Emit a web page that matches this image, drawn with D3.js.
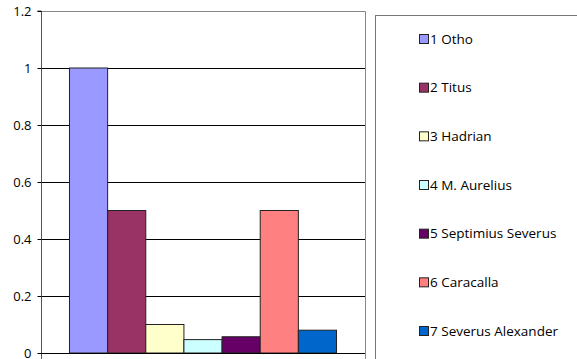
<!DOCTYPE html>
<html><head><meta charset="utf-8">
<script src="https://cdn.jsdelivr.net/npm/d3@7"></script>
<style>html,body{margin:0;padding:0;background:#fff;}svg{display:block;}</style>
</head><body>
<svg id="c" width="577" height="359"></svg>
<script>
const categories = ["1"];
const seriesNames = ["1 Otho","2 Titus","3 Hadrian","4 M. Aurelius","5 Septimius Severus","6 Caracalla","7 Severus Alexander"];
const seriesValues = [1.0, 0.5, 0.1, 0.047, 0.057, 0.5, 0.08];
const seriesColors = ["#9999FF","#993366","#FFFFCC","#CCFFFF","#660066","#FF8080","#0066CC"];
const yTicks = [0, 0.2, 0.4, 0.6, 0.8, 1, 1.2];
const yTickLabels = ["0","0.2","0.4","0.6","0.8","1","1.2"];

const svg = d3.select("#c");
const font = "'Open Sans', sans-serif";
const L = 41, R = 365, T = 11, B = 353;

const y = d3.scaleLinear().domain([0, 1.2]).range([B, T]);
const x0 = d3.scaleBand().domain(categories).range([L, R]).paddingInner(0).paddingOuter(0.1067);
const x1 = d3.scaleBand().domain(seriesNames).range([0, x0.bandwidth()]).padding(0);

// plot border (top & right gray)
svg.append("path").attr("d", `M${L},${T+0.5}H${R+0.5}V359`).attr("fill","none").attr("stroke","#888").attr("stroke-width",1);

// gridlines
svg.append("g").selectAll("line").data(yTicks.filter(t => t > 0 && t < 1.2)).join("line")
  .attr("x1", L).attr("x2", R).attr("y1", d => Math.round(y(d)) + 0.5).attr("y2", d => Math.round(y(d)) + 0.5)
  .attr("stroke", "#000").attr("stroke-width", 1);

// bars
const g = svg.append("g").attr("transform", `translate(${x0(categories[0])},0)`);
g.selectAll("rect").data(seriesNames).join("rect")
  .attr("x", d => x1(d)).attr("width", x1.bandwidth())
  .attr("y", (d, i) => y(seriesValues[i])).attr("height", (d, i) => B - y(seriesValues[i]))
  .attr("fill", (d, i) => seriesColors[i]).attr("stroke", "#222").attr("stroke-width", 1);

// y axis
const yAxis = d3.axisLeft(y).tickValues(yTicks).tickFormat((d, i) => yTickLabels[i]).tickSize(4).tickPadding(6);
const ya = svg.append("g").attr("transform", `translate(${L + 0.5},0)`).call(yAxis);
ya.select(".domain").attr("stroke", "#555").attr("d", `M-4,${T}H0V359`);
ya.selectAll(".tick line").attr("stroke", "#000");
ya.selectAll("text").attr("font-family", font).attr("font-size", 13).attr("fill", "#000");

// x axis line
svg.append("line").attr("x1", L).attr("x2", R).attr("y1", B + 0.5).attr("y2", B + 0.5).attr("stroke", "#000");

// legend
svg.append("rect").attr("x", 375.5).attr("y", 15.5).attr("width", 220).attr("height", 360)
  .attr("fill", "#fff").attr("stroke", "#777").attr("stroke-width", 1);
const ly = d3.scalePoint().domain(seriesNames).range([39, 331]);
const lg = svg.append("g").selectAll("g").data(seriesNames).join("g")
  .attr("transform", d => `translate(419,${ly(d)})`);
lg.append("rect").attr("x", 0.5).attr("y", -4.5).attr("width", 9).attr("height", 9)
  .attr("fill", (d, i) => seriesColors[i]).attr("stroke", "#222");
lg.append("text").attr("x", 11).attr("y", 0).attr("dy", "0.35em")
  .attr("font-family", font).attr("font-size", 13.5).attr("fill", "#000").text(d => d);
</script>
</body></html>
